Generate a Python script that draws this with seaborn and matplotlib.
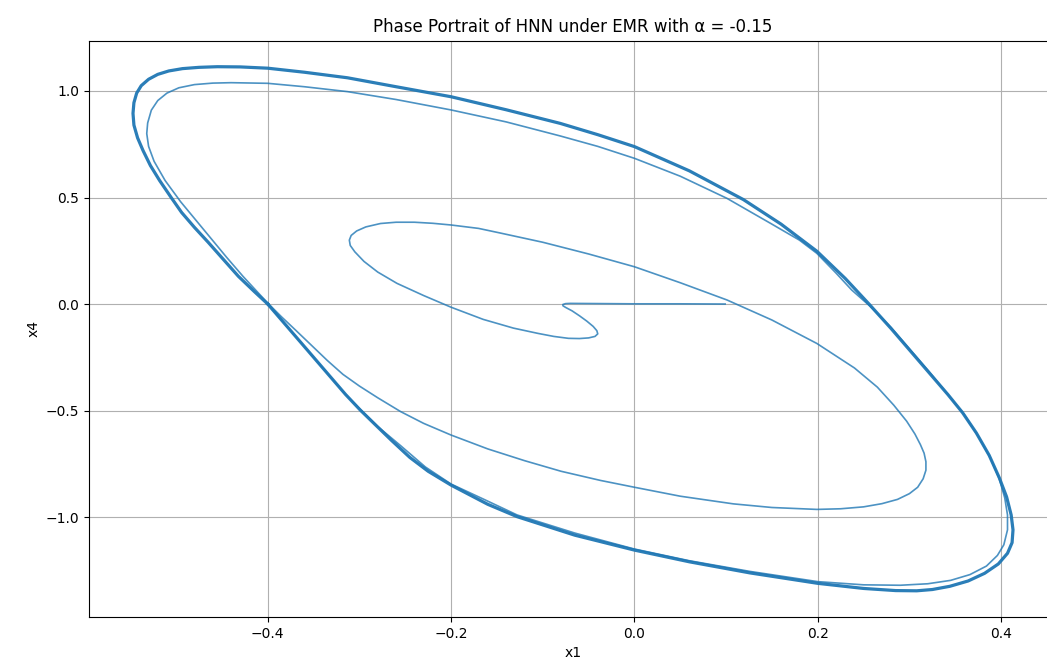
import pandas as pd
import matplotlib
matplotlib.use("Agg")
import matplotlib.pyplot as plt
import seaborn as sns

# Transient: starts at x1=0.1, hooks round and spirals out towards the limit cycle
transient_points = [
    (0.099, 0.0), (0.05, 0.001), (0.0, 0.001), (-0.04, 0.002), (-0.06, 0.003), (-0.07, 0.003),
    (-0.075, 0.002), (-0.078, -0.002), (-0.078, -0.008), (-0.075, -0.016), (-0.068, -0.032),
    (-0.06, -0.055), (-0.052, -0.08), (-0.045, -0.105), (-0.041, -0.125), (-0.040, -0.14),
    (-0.043, -0.152), (-0.05, -0.159), (-0.06, -0.162), (-0.072, -0.161), (-0.088, -0.152),
    (-0.105, -0.138), (-0.132, -0.113), (-0.165, -0.072), (-0.2, -0.015), (-0.23, 0.04),
    (-0.259, 0.097), (-0.28, 0.15), (-0.295, 0.2), (-0.305, 0.245), (-0.31, 0.275),
    (-0.311, 0.30), (-0.309, 0.322), (-0.303, 0.343), (-0.293, 0.362), (-0.277, 0.378),
    (-0.26, 0.384), (-0.24, 0.384), (-0.22, 0.379), (-0.2, 0.371), (-0.17, 0.355),
    (-0.146, 0.333), (-0.1, 0.29), (-0.05, 0.235), (0.0, 0.175), (0.05, 0.10), (0.101, 0.019),
    (0.15, -0.075), (0.199, -0.185), (0.24, -0.3), (0.265, -0.39), (0.283, -0.475),
    (0.297, -0.55), (0.306, -0.61), (0.312, -0.66), (0.316, -0.70), (0.318, -0.74),
    (0.318, -0.78), (0.315, -0.82), (0.309, -0.86), (0.3, -0.89), (0.287, -0.917),
    (0.27, -0.937), (0.25, -0.952), (0.225, -0.961), (0.199, -0.964), (0.15, -0.955),
    (0.108, -0.938), (0.05, -0.902), (0.0, -0.86), (-0.037, -0.828), (-0.08, -0.785),
    (-0.12, -0.735), (-0.16, -0.68), (-0.2, -0.615), (-0.23, -0.56), (-0.255, -0.505),
    (-0.28, -0.44), (-0.3, -0.385), (-0.318, -0.33), (-0.335, -0.265), (-0.352, -0.195),
    (-0.369, -0.125), (-0.385, -0.06), (-0.399, 0.0), (-0.412, 0.06), (-0.427, 0.13),
    (-0.445, 0.22), (-0.47, 0.35), (-0.495, 0.48), (-0.512, 0.58), (-0.524, 0.67),
    (-0.53, 0.74), (-0.532, 0.80), (-0.531, 0.85), (-0.527, 0.91), (-0.52, 0.955),
    (-0.51, 0.99), (-0.497, 1.015), (-0.48, 1.03), (-0.46, 1.037), (-0.44, 1.039),
    (-0.4, 1.036), (-0.36, 1.02), (-0.313, 0.997), (-0.26, 0.96), (-0.2, 0.911),
    (-0.14, 0.855), (-0.081, 0.789), (-0.04, 0.74), (0.0, 0.684), (0.05, 0.60),
    (0.101, 0.496), (0.15, 0.375), (0.18, 0.3), (0.199, 0.238), (0.22, 0.145),
    (0.237, 0.066), (0.257, -0.01), (0.28, -0.11), (0.30, -0.21), (0.322, -0.32),
    (0.344, -0.435), (0.36, -0.52), (0.375, -0.62), (0.388, -0.72), (0.398, -0.82),
    (0.404, -0.91), (0.407, -0.99), (0.407, -1.06), (0.403, -1.13), (0.396, -1.18),
    (0.384, -1.23), (0.366, -1.27), (0.345, -1.297), (0.32, -1.313), (0.29, -1.32),
    (0.25, -1.318), (0.2, -1.303), (0.126, -1.255), (0.06, -1.205), (0.0, -1.15),
    (-0.065, -1.075), (-0.128, -0.99), (-0.165, -0.915), (-0.2, -0.845), (-0.228, -0.765),
    (-0.255, -0.665), (-0.28, -0.575), (-0.3, -0.49), (-0.316, -0.42), (-0.332, -0.34),
    (-0.349, -0.255), (-0.366, -0.17), (-0.383, -0.085), (-0.4, 0.0),
]

# Outer limit cycle, traced over and over (the thick band)
cycle_points = [
    (-0.4, 0.0), (-0.415, 0.06), (-0.432, 0.13), (-0.451, 0.222), (-0.465, 0.29),
    (-0.48, 0.36), (-0.494, 0.43), (-0.506, 0.504), (-0.518, 0.58), (-0.528, 0.65),
    (-0.536, 0.72), (-0.542, 0.78), (-0.546, 0.84), (-0.547, 0.895), (-0.546, 0.945),
    (-0.543, 0.99), (-0.538, 1.025), (-0.53, 1.055), (-0.52, 1.078), (-0.508, 1.094),
    (-0.493, 1.105), (-0.475, 1.111), (-0.455, 1.114), (-0.43, 1.113), (-0.4, 1.107),
    (-0.36, 1.088), (-0.313, 1.062), (-0.26, 1.02), (-0.2, 0.973), (-0.14, 0.912),
    (-0.081, 0.848), (-0.04, 0.795), (0.0, 0.739), (0.06, 0.625), (0.119, 0.49),
    (0.16, 0.375), (0.199, 0.248), (0.23, 0.12), (0.257, -0.005), (0.28, -0.115),
    (0.30, -0.215), (0.322, -0.325), (0.342, -0.425), (0.358, -0.51), (0.373, -0.605),
    (0.387, -0.71), (0.398, -0.815), (0.406, -0.905), (0.411, -0.99), (0.413, -1.06),
    (0.412, -1.12), (0.407, -1.17), (0.397, -1.22), (0.382, -1.264), (0.364, -1.3),
    (0.344, -1.325), (0.325, -1.34), (0.308, -1.346), (0.285, -1.345), (0.25, -1.335),
    (0.2, -1.311), (0.126, -1.262), (0.06, -1.21), (0.0, -1.155), (-0.065, -1.085),
    (-0.128, -0.998), (-0.16, -0.94), (-0.2, -0.85), (-0.225, -0.785), (-0.245, -0.72),
    (-0.265, -0.64), (-0.283, -0.565), (-0.299, -0.498), (-0.315, -0.425), (-0.332, -0.34),
    (-0.349, -0.255), (-0.366, -0.17), (-0.383, -0.085), (-0.4, 0.0),
]

transient = pd.DataFrame(transient_points, columns=["x1", "x4"])
cycle = pd.DataFrame(cycle_points, columns=["x1", "x4"])

fig = plt.figure(figsize=(10.47, 6.69), dpi=100)
# the source image is cropped on the right, so the axes run past the figure edge
ax = fig.add_axes([89 / 1047, 52 / 669, 968 / 1047, 576.5 / 669])

sns.lineplot(data=transient, x="x1", y="x4", sort=False, estimator=None,
             color="#1f77b4", linewidth=1.2, alpha=0.8, ax=ax)
sns.lineplot(data=cycle, x="x1", y="x4", sort=False, estimator=None,
             color="#1f77b4", linewidth=2.3, alpha=0.95, ax=ax)

ax.set_title("Phase Portrait of HNN under EMR with α = -0.15", fontsize=12)
ax.set_xlabel("x1")
ax.set_ylabel("x4")
ax.grid(True)

fig.savefig("out.png", dpi=100)
